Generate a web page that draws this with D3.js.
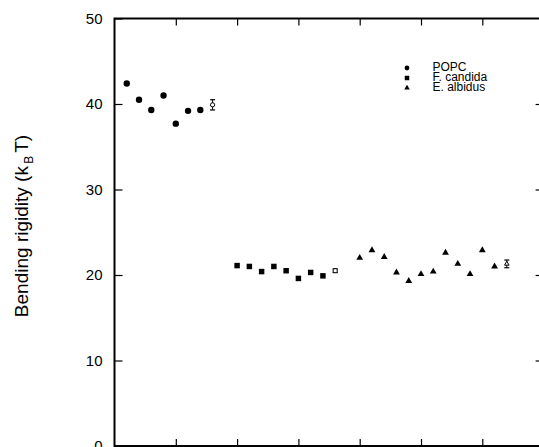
<!DOCTYPE html>
<html lang="en">

<head>
  <meta charset="UTF-8" />
  <title>Bending rigidity</title>
  <script src="https://d3js.org/d3.v7.min.js"></script>
  <style>
    body {
      margin: 0;
      font-family: "Liberation Sans", Arial, sans-serif;
      background: #fff;
    }

    .tick text {
      font-size: 15px;
      font-family: "Liberation Sans", Arial, sans-serif;
      fill: #000;
    }
  </style>
</head>

<body>
  <svg width="539" height="447"></svg>

  <script>
    // data
    const popcX = [0.2, 0.4, 0.6, 0.8, 1.0, 1.2, 1.4];
    const popcY = [42.4, 40.5, 39.3, 41.0, 37.7, 39.2, 39.3];
    const popcMean = [1.6, 39.9, 0.6]; // x, y, err

    const candidaX = [2.0, 2.2, 2.4, 2.6, 2.8, 3.0, 3.2, 3.4];
    const candidaY = [21.1, 21.0, 20.4, 21.0, 20.5, 19.6, 20.3, 19.9];
    const candidaMean = [3.6, 20.5, 0.2];

    const albidusX = [4.0, 4.2, 4.4, 4.6, 4.8, 5.0, 5.2, 5.4, 5.6, 5.8, 6.0, 6.2];
    const albidusY = [22.0, 22.9, 22.1, 20.3, 19.3, 20.1, 20.4, 22.6, 21.3, 20.1, 22.9, 21.0];
    const albidusMean = [6.4, 21.3, 0.45];

    const yTicks = [0, 10, 20, 30, 40, 50];
    const xTicks = [1, 2, 3, 4, 5, 6];
    const legendNames = ["POPC", "F. candida", "E. albidus"];

    const svg = d3.select("svg");
    const x = d3.scaleLinear().domain([0, 7]).range([114.5, 543.6]);
    const y = d3.scaleLinear().domain([0, 50]).range([446, 18.5]);

    // frame
    svg.append("rect")
      .attr("x", x(0)).attr("y", y(50))
      .attr("width", x(7) - x(0)).attr("height", y(0) - y(50))
      .attr("fill", "none").attr("stroke", "#000").attr("stroke-width", 2);

    // left axis with labels
    const leftAxis = svg.append("g")
      .attr("transform", `translate(${x(0)},0)`)
      .call(d3.axisLeft(y).tickValues(yTicks).tickSizeInner(-8).tickSizeOuter(0).tickPadding(12));
    leftAxis.select(".domain").remove();
    leftAxis.selectAll("line").attr("stroke-width", 1.2);

    // right axis ticks
    const rightAxis = svg.append("g")
      .attr("transform", `translate(${x(7)},0)`)
      .call(d3.axisRight(y).tickValues(yTicks.slice(1, 5)).tickSizeInner(-8).tickSizeOuter(0).tickFormat(""));
    rightAxis.select(".domain").remove();
    rightAxis.selectAll("line").attr("stroke-width", 1.2);

    // bottom and top ticks
    const bottomAxis = svg.append("g")
      .attr("transform", `translate(0,${y(0)})`)
      .call(d3.axisBottom(x).tickValues(xTicks).tickSizeInner(-7).tickSizeOuter(0).tickFormat(""));
    bottomAxis.select(".domain").remove();
    bottomAxis.selectAll("line").attr("stroke-width", 1.2);
    const topAxis = svg.append("g")
      .attr("transform", `translate(0,${y(50)})`)
      .call(d3.axisTop(x).tickValues(xTicks).tickSizeInner(-7).tickSizeOuter(0).tickFormat(""));
    topAxis.select(".domain").remove();
    topAxis.selectAll("line").attr("stroke-width", 1.2);

    // y label
    const ylab = svg.append("text")
      .attr("transform", `translate(28,226) rotate(-90)`)
      .attr("text-anchor", "middle")
      .style("font-size", "19px");
    ylab.append("tspan").text("Bending rigidity (k ");
    ylab.append("tspan").attr("dy", 5).attr("dx", -3).style("font-size", "12px").text("B");
    ylab.append("tspan").attr("dy", -5).attr("dx", 3).text("T)");

    // series
    const series = [
      { xs: popcX, ys: popcY, mean: popcMean, sym: d3.symbolCircle, size: 32, msize: 14 },
      { xs: candidaX, ys: candidaY, mean: candidaMean, sym: d3.symbolSquare, size: 30, msize: 16 },
      { xs: albidusX, ys: albidusY, mean: albidusMean, sym: d3.symbolTriangle, size: 20, msize: 9 }
    ];

    series.forEach(s => {
      svg.append("g").selectAll("path")
        .data(s.xs.map((v, i) => [v, s.ys[i]]))
        .join("path")
        .attr("transform", d => `translate(${x(d[0])},${y(d[1])})`)
        .attr("d", d3.symbol().type(s.sym).size(s.size))
        .attr("fill", "#000");

      // mean with error bar
      const [mx, my, me] = s.mean;
      const g = svg.append("g");
      g.append("line")
        .attr("x1", x(mx)).attr("x2", x(mx))
        .attr("y1", y(my - me)).attr("y2", y(my + me))
        .attr("stroke", "#000").attr("stroke-width", 1);
      [my - me, my + me].forEach(v => {
        g.append("line")
          .attr("x1", x(mx) - 2.5).attr("x2", x(mx) + 2.5)
          .attr("y1", y(v)).attr("y2", y(v))
          .attr("stroke", "#000").attr("stroke-width", 1.2);
      });
      g.append("path")
        .attr("transform", `translate(${x(mx)},${y(my)})`)
        .attr("d", d3.symbol().type(s.sym).size(s.msize))
        .attr("fill", "#fff").attr("stroke", "#000").attr("stroke-width", 1);
    });

    // legend
    const legendSyms = [d3.symbolCircle, d3.symbolSquare, d3.symbolTriangle];
    const legendSizes = [18, 20, 13];
    const legendY = [71, 81, 91];
    const lg = svg.append("g");
    legendNames.forEach((name, i) => {
      lg.append("path")
        .attr("transform", `translate(407,${legendY[i] - 3})`)
        .attr("d", d3.symbol().type(legendSyms[i]).size(legendSizes[i]))
        .attr("fill", "#000");
      lg.append("text")
        .attr("x", 432.5).attr("y", legendY[i])
        .style("font-size", "12px")
        .text(name);
    });
  </script>
</body>

</html>
